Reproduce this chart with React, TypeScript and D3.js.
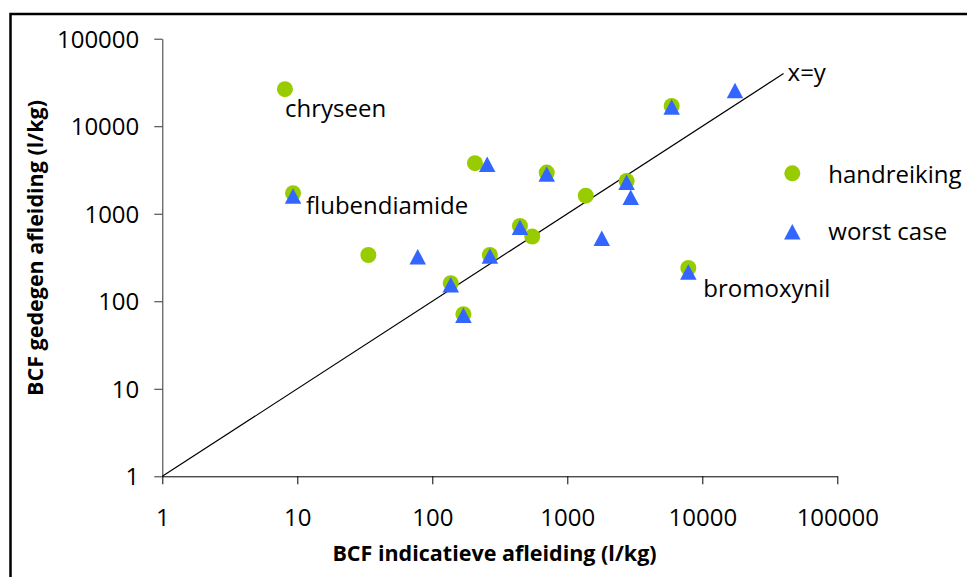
import { useRef, useEffect } from "react";
import * as d3 from "d3";

// BCF indicatieve afleiding (x) vs BCF gedegen afleiding (y), l/kg
const handreikingX = [8.1, 9.3, 33.6, 137, 170, 207, 267, 446, 550, 704, 1370, 2750, 5930, 7880];
const handreikingY = [26500, 1715, 338, 161, 71, 3780, 338, 726, 548, 2950, 1610, 2370, 17060, 240];

const worstCaseX = [9.3, 78, 137, 170, 255, 267, 446, 704, 1800, 2750, 2950, 5930, 17470, 7880];
const worstCaseY = [1600, 323, 154, 69, 3680, 330, 701, 2850, 525, 2290, 1545, 16630, 25530, 216];

// named points (index into handreiking)
const labelNames = ["chryseen", "flubendiamide", "bromoxynil"];
const labelIndex = [0, 1, 13];
const labelOffsets = [[0, 28], [13, 21], [15, 29]];

const identityLine = [1, 40000];
const tickValues = [1, 10, 100, 1000, 10000, 100000];
const seriesNames = ["handreiking", "worst case"];

const GREEN = "#99cc00";
const BLUE = "#3366ff";
const FONT = "'Open Sans', sans-serif";

export default function App() {
  const svgRef = useRef(null);

  useEffect(() => {
    const width = 967;
    const height = 577;

    const svg = d3.select(svgRef.current);
    svg.selectAll("*").remove();
    svg.attr("width", width).attr("height", height);

    // chart frame
    svg.append("rect")
      .attr("x", 10.5).attr("y", 14)
      .attr("width", 1000).attr("height", 1000)
      .attr("fill", "#fff")
      .attr("stroke", "#000")
      .attr("stroke-width", 2.5);

    const xScale = d3.scaleLog().domain([1, 100000]).range([162.3, 837.3]);
    const yScale = d3.scaleLog().domain([1, 100000]).range([476.3, 38.7]);

    // axes
    const yAxis = d3.axisLeft(yScale)
      .tickValues(tickValues)
      .tickFormat(d3.format("d"))
      .tickSize(8)
      .tickSizeOuter(0);
    const gy = svg.append("g")
      .attr("transform", `translate(${xScale(1)},0)`)
      .call(yAxis);
    gy.select(".domain").attr("stroke", "#333");
    gy.selectAll(".tick line").attr("stroke", "#333");
    gy.selectAll(".tick text")
      .attr("x", -23)
      .attr("dy", "0.36em")
      .attr("font-family", FONT)
      .attr("font-size", 24)
      .attr("fill", "#000");

    const xAxis = d3.axisBottom(xScale)
      .tickValues(tickValues)
      .tickFormat(d3.format("d"))
      .tickSize(8)
      .tickSizeOuter(0);
    const gx = svg.append("g")
      .attr("transform", `translate(0,${yScale(1)})`)
      .call(xAxis);
    gx.select(".domain").attr("stroke", "#000");
    gx.selectAll(".tick line").attr("stroke", "#000");
    gx.selectAll(".tick text")
      .attr("y", 50)
      .attr("dy", 0)
      .attr("font-family", FONT)
      .attr("font-size", 24)
      .attr("fill", "#000");

    // axis titles
    svg.append("text")
      .attr("x", 494.5).attr("y", 561)
      .attr("text-anchor", "middle")
      .attr("font-family", FONT)
      .attr("font-weight", "bold")
      .attr("font-size", 21.5)
      .text("BCF indicatieve afleiding (l/kg)");

    svg.append("text")
      .attr("transform", "translate(43,248) rotate(-90)")
      .attr("text-anchor", "middle")
      .attr("font-family", FONT)
      .attr("font-weight", "bold")
      .attr("font-size", 21.5)
      .text("BCF gedegen afleiding (l/kg)");

    // x=y line
    const line = d3.line()
      .x((d) => xScale(d))
      .y((d) => yScale(d));
    svg.append("path")
      .attr("d", line(identityLine))
      .attr("fill", "none")
      .attr("stroke", "#000")
      .attr("stroke-width", 1.2);
    svg.append("text")
      .attr("x", xScale(identityLine[1]) + 4)
      .attr("y", yScale(identityLine[1]) + 7)
      .attr("font-family", FONT)
      .attr("font-size", 24)
      .text("x=y");

    // triangle marker centred on its bounding box (Excel style)
    const tri = (s, h) => `M0,${-h / 2}L${s / 2},${h / 2}L${-s / 2},${h / 2}Z`;

    // handreiking
    svg.append("g").selectAll("circle")
      .data(d3.range(handreikingX.length))
      .join("circle")
      .attr("cx", (i) => xScale(handreikingX[i]))
      .attr("cy", (i) => yScale(handreikingY[i]))
      .attr("r", 8)
      .attr("fill", GREEN);

    // worst case
    svg.append("g").selectAll("path")
      .data(d3.range(worstCaseX.length))
      .join("path")
      .attr("transform", (i) => `translate(${xScale(worstCaseX[i])},${yScale(worstCaseY[i])})`)
      .attr("d", tri(16.5, 15.5))
      .attr("fill", BLUE);

    // data labels
    labelNames.forEach((name, k) => {
      const i = labelIndex[k];
      svg.append("text")
        .attr("x", xScale(handreikingX[i]) + labelOffsets[k][0])
        .attr("y", yScale(handreikingY[i]) + labelOffsets[k][1])
        .attr("font-family", FONT)
        .attr("font-size", 24)
        .text(name);
    });

    // legend
    const legend = svg.append("g").attr("transform", "translate(792.3,173.3)");
    legend.append("circle").attr("r", 8).attr("fill", GREEN);
    legend.append("path")
      .attr("transform", "translate(0,58.4)")
      .attr("d", tri(16.5, 15.5))
      .attr("fill", BLUE);
    seriesNames.forEach((name, i) => {
      legend.append("text")
        .attr("x", 36)
        .attr("y", 9.4 + i * 57.3)
        .attr("font-family", FONT)
        .attr("font-size", 24)
        .text(name);
    });
  }, []);

  return (
    <div style={{ position: "absolute", left: 0, top: 0 }}>
      <svg ref={svgRef}></svg>
    </div>
  );
}
